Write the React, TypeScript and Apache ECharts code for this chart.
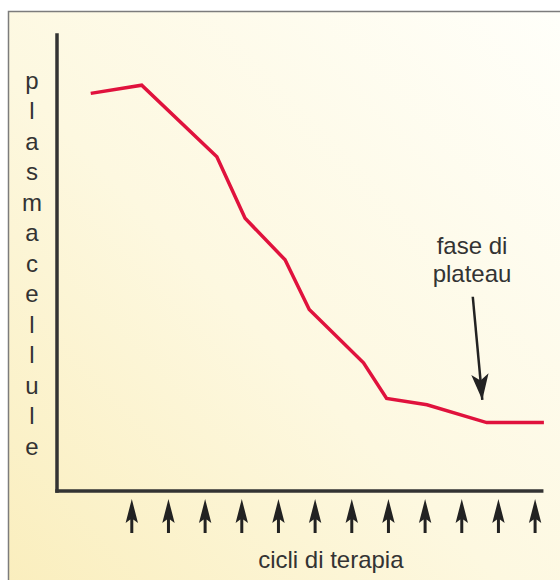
import React, { useEffect, useRef } from "react";
import * as echarts from "echarts";

// x positions of the curve's corners, in therapy cycles
const cycleX = [-0.12, 1.27, 3.32, 4.09, 5.18, 5.84, 7.32, 7.95, 9.05, 10.68, 12.24];
// plasma-cell level (arbitrary units, 0–100)
const plasmaCells = [87.2, 89.0, 73.3, 59.8, 50.7, 39.8, 28.1, 20.3, 18.9, 15.0, 15.0];
// therapy cycles marked with arrows
const therapyCycles = [1, 2, 3, 4, 5, 6, 7, 8, 9, 10, 11, 12];
// plateau annotation arrow: [x, y] start and end
const plateauArrowStart = [10.3, 42.6];
const plateauArrowEnd = [10.56, 19.96];

const yLabel = "plasmacellule";
const xLabel = "cicli di terapia";
const noteLabel = "fase di\nplateau";

const FONT = "'Liberation Sans', Arial, Helvetica, sans-serif";
const AXIS_COLOR = "#333333";
const TEXT_COLOR = "#333333";

export default function App() {
  const ref = useRef<HTMLDivElement>(null);

  useEffect(() => {
    document.body.style.margin = "0";
    if (!ref.current) return;
    const chart = echarts.init(ref.current, undefined, { renderer: "svg" });

    const xMin = -1.04;
    const xMax = 12.18;

    const option: any = {
      animation: false,
      graphic: [
        {
          type: "rect",
          z: -100,
          silent: true,
          shape: { x: 8.5, y: 11.5, width: 560, height: 580 },
          style: {
            fill: new echarts.graphic.LinearGradient(0, 1, 1, 0, [
              { offset: 0, color: "#FAEEBD" },
              { offset: 0.45, color: "#FDF8E0" },
              { offset: 1, color: "#FFFFFA" },
            ]),
            stroke: "#7c7c7c",
            lineWidth: 1.5,
          },
        },
        {
          type: "text",
          x: 472,
          y: 259,
          silent: true,
          style: {
            text: noteLabel,
            fontSize: 24,
            fontFamily: FONT,
            fill: TEXT_COLOR,
            align: "center",
            verticalAlign: "middle",
            lineHeight: 28,
          },
        },
      ],
      grid: [
        { left: 57, top: 35, width: 484.7, height: 456 },
        { left: 57, top: 495, width: 484.7, height: 42 },
      ],
      xAxis: [
        {
          type: "value",
          gridIndex: 0,
          min: xMin,
          max: xMax,
          axisLine: {
            show: true,
            onZero: false,
            lineStyle: { color: AXIS_COLOR, width: 3.5, cap: "square" },
          },
          axisTick: { show: false },
          axisLabel: { show: false },
          splitLine: { show: false },
          name: xLabel,
          nameLocation: "middle",
          nameGap: 68,
          nameTextStyle: {
            fontSize: 24,
            fontFamily: FONT,
            color: TEXT_COLOR,
            verticalAlign: "middle",
            padding: [0, 0, 0, 63],
          },
        },
        { type: "value", gridIndex: 1, min: xMin, max: xMax, show: false },
      ],
      yAxis: [
        {
          type: "value",
          gridIndex: 0,
          min: 0,
          max: 100,
          axisLine: {
            show: true,
            onZero: false,
            lineStyle: { color: AXIS_COLOR, width: 3.5, cap: "square" },
          },
          axisTick: { show: false },
          axisLabel: { show: false },
          splitLine: { show: false },
          name: yLabel.split("").join("\n"),
          nameLocation: "middle",
          nameRotate: 0,
          nameGap: 25,
          nameTextStyle: {
            fontSize: 24,
            fontFamily: FONT,
            color: TEXT_COLOR,
            lineHeight: 30.5,
            align: "center",
            verticalAlign: "middle",
            padding: [0, 0, 6, 0],
          },
        },
        { type: "value", gridIndex: 1, min: 0, max: 1, show: false },
      ],
      series: [
        {
          type: "line",
          xAxisIndex: 0,
          yAxisIndex: 0,
          data: cycleX.map((x, i) => [x, plasmaCells[i]]),
          symbol: "none",
          clip: false,
          lineStyle: { color: "#E0123D", width: 3.5, join: "miter" },
          markLine: {
            silent: true,
            symbol: ["none", "arrow"],
            symbolSize: [13, 26],
            label: { show: false },
            lineStyle: { color: "#222222", width: 2.5, type: "solid", opacity: 1 },
            data: [[{ coord: plateauArrowStart }, { coord: plateauArrowEnd }]],
          },
        },
        {
          type: "scatter",
          xAxisIndex: 1,
          yAxisIndex: 1,
          data: therapyCycles.map((c) => [c, 0.5]),
          symbol: "path://M6,0 L12.2,24 L7.5,20.5 L7.5,34 L4.5,34 L4.5,20.5 L-0.2,24 Z",
          symbolSize: [12.4, 34],
          itemStyle: { color: "#222222", opacity: 1 },
          silent: true,
        },
      ],
    };

    chart.setOption(option);
    return () => chart.dispose();
  }, []);

  return <div ref={ref} style={{ width: 560, height: 580 }} />;
}
